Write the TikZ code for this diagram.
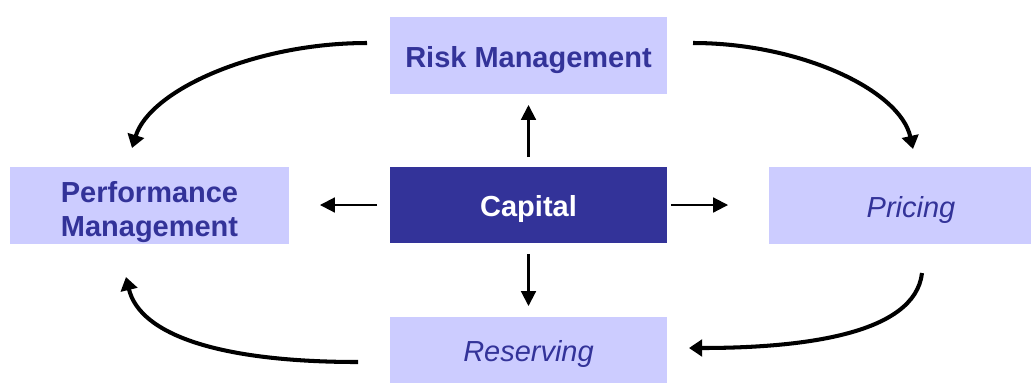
\documentclass[tikz,border=0pt]{standalone}
\usepackage{fontspec}
\setmainfont{Liberation Sans}
\usetikzlibrary{arrows.meta}
\definecolor{lightbox}{HTML}{CCCCFF}
\definecolor{darkbox}{HTML}{333399}
\begin{document}
\begin{tikzpicture}[x=0.02cm,y=-0.02cm,
  box/.style={fill=lightbox, draw=none, inner sep=0pt, outer sep=0pt, align=center,
    text=darkbox, font=\fontsize{16.5}{19.5}\selectfont, text height=14.3pt, text depth=1.2pt},
  boldbox/.style={box, font=\fontsize{16.5}{19.5}\selectfont\bfseries},
  italbox/.style={box, font=\fontsize{16.5}{19.5}\selectfont\itshape},
  straightarrow/.style={line width=1.15pt, -{Triangle[width=8.5pt,length=8.5pt]}},
  curvedarrow/.style={line width=2.3pt, -{Triangle[width=9.5pt,length=7.5pt]}}]
\useasboundingbox (0,0) rectangle (1031,383);
\node[boldbox, minimum width=5.54cm, minimum height=1.54cm] (risk) at (528.5,55.5) {Risk Management};
\node[boldbox, minimum width=5.58cm, minimum height=1.54cm, text height=, text depth=] (perf) at (149.5,205.5)
  {\raisebox{-4pt}[\height][\depth]{\begin{tabular}{@{}c@{}}Performance\\Management\end{tabular}}};
\node[boldbox, fill=darkbox, text=white, minimum width=5.54cm, minimum height=1.52cm] (cap) at (528.5,205) {Capital};
\node[italbox, minimum width=5.68cm, minimum height=1.54cm] (pricing) at (911,205.5) {Pricing};
\node[italbox, minimum width=5.54cm, minimum height=1.32cm] (res) at (528.5,350) {Reserving};

% straight arrows from Capital
\draw[straightarrow, shorten <=0.2cm, shorten >=0.22cm] (cap.north) -- (risk.south);
\draw[straightarrow, shorten <=0.22cm, shorten >=0.22cm] (cap.south) -- (res.north);
\draw[straightarrow, shorten <=0.26cm, shorten >=0.62cm] (cap.west) -- (perf.east |- cap.west);
\draw[straightarrow, shorten <=0.08cm, shorten >=0.82cm] (cap.east) -- (pricing.west |- cap.east);

% curved cycle arrows
\coordinate (rl) at (367,43);
\coordinate (pt) at (132,148);
\coordinate (rr) at (693,43);
\coordinate (prt) at (913,149);
\coordinate (prb) at (922,273);
\coordinate (rsr) at (689,348);
\coordinate (rsl) at (358,362);
\coordinate (pb) at (126,277);
\draw[curvedarrow] (rl) .. controls (255,43) and (150,90) .. (pt);
\draw[curvedarrow] (rr) .. controls (800,43) and (900,90) .. (prt);
\draw[curvedarrow] (prb) .. controls (915,335) and (800,348) .. (rsr);
\draw[curvedarrow] (rsl) .. controls (220,362) and (140,335) .. (pb);
\end{tikzpicture}
\end{document}
